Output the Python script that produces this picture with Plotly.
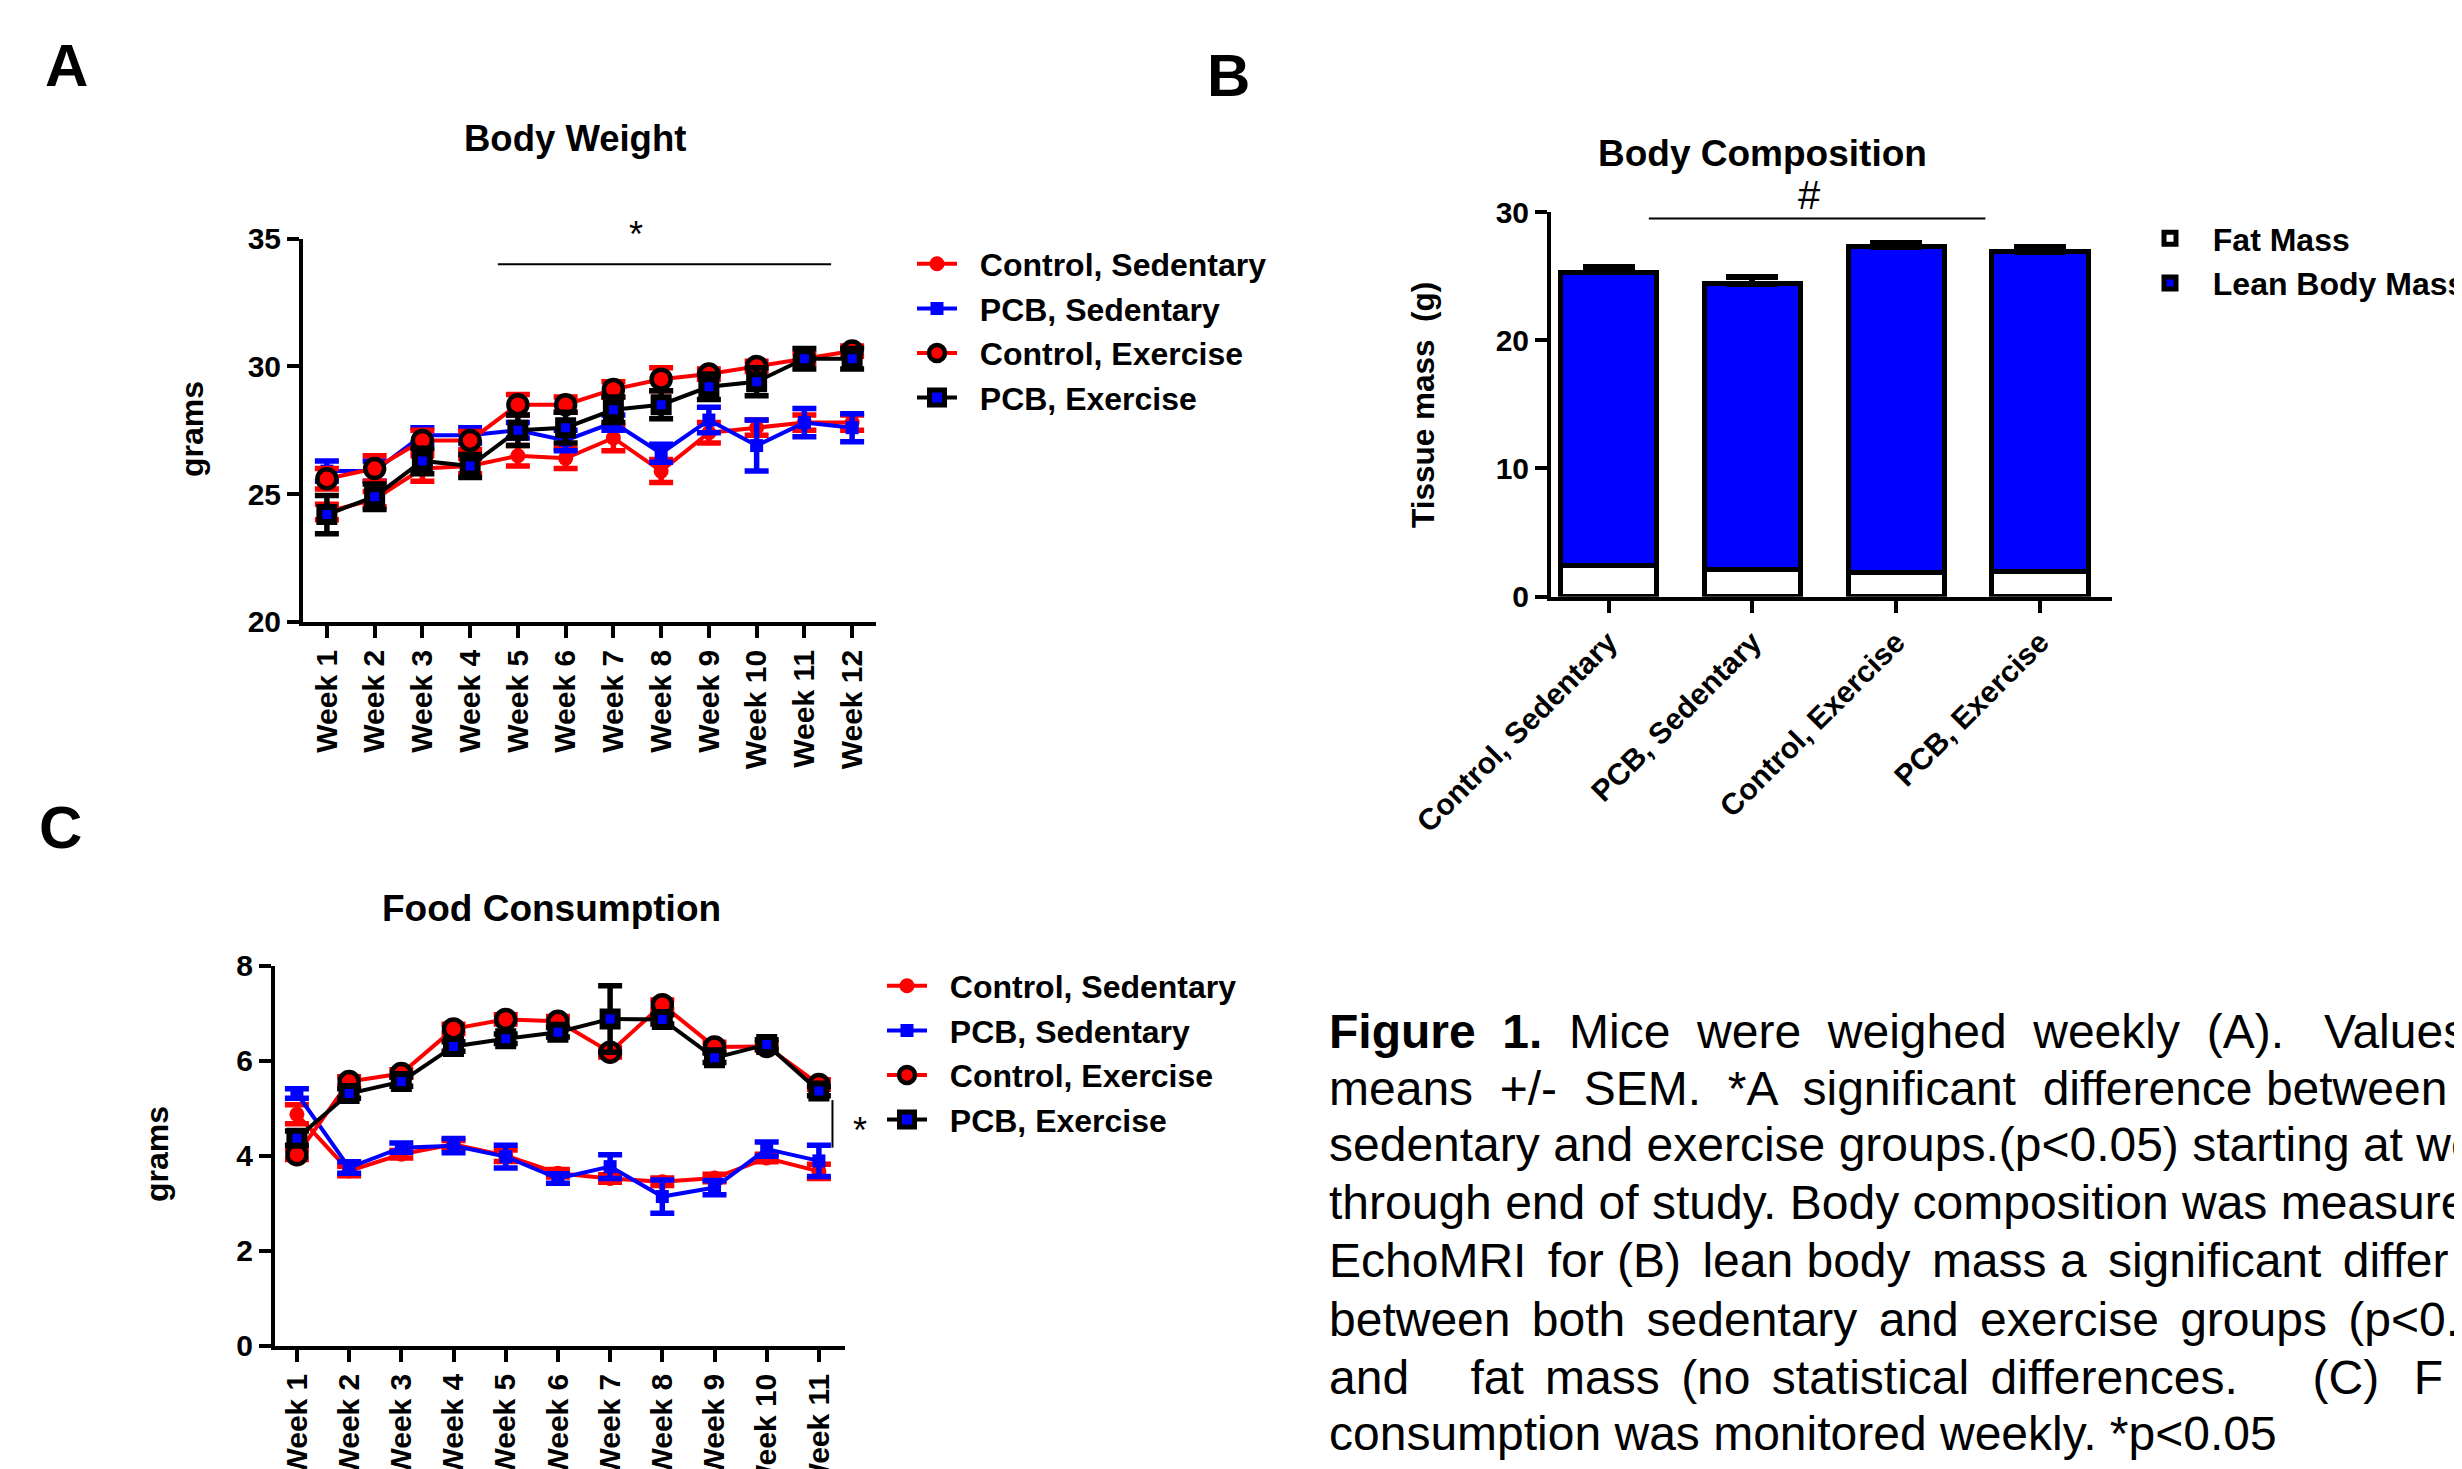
import plotly.graph_objects as go

W, H = 2462, 1469
OFF = 8  # page body margin compensation
BOLD = "Liberation Sans, Arial, Helvetica, sans-serif"

RED = "#FF0000"
BLUE = "#0000FF"
BLACK = "#000000"
NB = "\u00a0"
S6 = "\u2006"   # six-per-em space (mimics justified text)

# ---------------- Data ----------------
series_names = ["Control, Sedentary", "PCB, Sedentary", "Control, Exercise", "PCB, Exercise"]

# Panel A: Body Weight (grams)
weeks_bw = ["Week 1", "Week 2", "Week 3", "Week 4", "Week 5", "Week 6",
            "Week 7", "Week 8", "Week 9", "Week 10", "Week 11", "Week 12"]
bw_ctrl_sed = [24.3, 24.8, 26.0, 26.1, 26.5, 26.4, 27.2, 25.9, 27.4, 27.6, 27.8, 27.8]
bw_ctrl_sed_err = [0.3, 0.3, 0.5, 0.3, 0.4, 0.4, 0.5, 0.45, 0.4, 0.3, 0.3, 0.3]
bw_pcb_sed = [25.9, 25.9, 27.3, 27.3, 27.5, 27.1, 27.8, 26.6, 27.9, 26.9, 27.8, 27.6]
bw_pcb_sed_err = [0.4, 0.4, 0.3, 0.3, 0.3, 0.4, 0.3, 0.35, 0.5, 1.0, 0.55, 0.55]
bw_ctrl_ex = [25.6, 26.0, 27.1, 27.1, 28.5, 28.5, 29.1, 29.5, 29.7, 30.0, 30.3, 30.6]
bw_ctrl_ex_err = [0.4, 0.5, 0.4, 0.35, 0.4, 0.3, 0.3, 0.45, 0.2, 0.2, 0.2, 0.2]
bw_pcb_ex = [24.2, 24.9, 26.3, 26.1, 27.5, 27.6, 28.3, 28.5, 29.2, 29.4, 30.3, 30.3]
bw_pcb_ex_err = [0.75, 0.5, 0.5, 0.45, 0.6, 0.6, 0.5, 0.55, 0.5, 0.55, 0.4, 0.4]

# Panel B: Body Composition (g)
groups = ["Control, Sedentary", "PCB, Sedentary", "Control, Exercise", "PCB, Exercise"]
comp_names = ["Fat Mass", "Lean Body Mass"]
fat_mass = [2.4, 2.1, 1.9, 2.0]
fat_err_up = [0.1, 0.1, 0.1, 0.1]
fat_err_down = [0, 0, 0, 0]
lean_mass = [22.9, 22.3, 25.4, 24.9]
lean_err_up = [0.4, 0.5, 0.3, 0.4]
lean_err_down = [0, 0, 0, 0]

# Panel C: Food Consumption (grams)
weeks_fc = ["Week 1", "Week 2", "Week 3", "Week 4", "Week 5", "Week 6",
            "Week 7", "Week 8", "Week 9", "Week 10", "Week 11"]
fc_ctrl_sed = [4.87, 3.68, 4.03, 4.24, 4.00, 3.63, 3.52, 3.45, 3.53, 3.95, 3.67]
fc_ctrl_sed_err = [0.2, 0.1, 0.08, 0.08, 0.12, 0.08, 0.08, 0.08, 0.08, 0.08, 0.15]
fc_pcb_sed = [5.31, 3.75, 4.17, 4.21, 3.98, 3.52, 3.77, 3.14, 3.33, 4.14, 3.89]
fc_pcb_sed_err = [0.1, 0.12, 0.1, 0.15, 0.24, 0.1, 0.25, 0.35, 0.15, 0.15, 0.33]
fc_ctrl_ex = [4.02, 5.56, 5.73, 6.67, 6.87, 6.83, 6.18, 7.18, 6.29, 6.30, 5.50]
fc_ctrl_ex_err = [0.1, 0.1, 0.08, 0.1, 0.1, 0.1, 0.1, 0.1, 0.1, 0.08, 0.1]
fc_pcb_ex = [4.37, 5.31, 5.56, 6.30, 6.46, 6.60, 6.88, 6.87, 6.06, 6.34, 5.36]
fc_pcb_ex_err = [0.15, 0.1, 0.1, 0.1, 0.1, 0.1, 0.7, 0.1, 0.1, 0.1, 0.1]

# Caption lines as they appear (the right edge of the picture cuts them);
# {s} are small extra spaces that mimic the original justified text.
caption_lines = [
    "<b>Figure  1.</b>  Mice  were  weighed  weekly  (A).   Values",
    "means  +/-  SEM.  *A  significant  difference between",
    "sedentary and exercise groups.(p<0.05) starting at we",
    "through end of study. Body composition was measure",
    "EchoMRI {s}for (B) {s}lean body {s}mass a {s}significant {s}differ",
    "between {s}both {s}sedentary {s}and {s}exercise {s}groups {s}(p<0.",
    "and    {s}fat {s}mass {s}(no {s}statistical {s}differences.     {s}(C)  {s}F",
    "consumption was monitored weekly. *p<0.05",
]

# ---------------- Helpers (layout only) ----------------
def px(x):
    return (x - OFF) / W

def py(y):
    return 1 - (y - OFF) / H

styles = [
    dict(sym="circle", size=15, color=RED, mlw=0, mlc=RED, line=RED, err=RED),
    dict(sym="square", size=13, color=BLUE, mlw=0, mlc=BLUE, line=BLUE, err=BLUE),
    dict(sym="circle", size=19, color=RED, mlw=4.5, mlc=BLACK, line=RED, err=RED),
    dict(sym="square", size=15, color=BLUE, mlw=6, mlc=BLACK, line=BLACK, err=BLACK),
]

fig = go.Figure()

def add_series(xcats, ys, errs, name, st, xa, ya, legend):
    fig.add_trace(go.Scatter(
        x=xcats, y=ys, name=NB * 2 + name, mode="lines+markers",
        line=dict(color=st["line"], width=4),
        marker=dict(symbol=st["sym"], size=st["size"], color=st["color"],
                    line=dict(color=st["mlc"], width=st["mlw"])),
        error_y=dict(type="data", array=errs, visible=True, color=st["err"],
                     thickness=5.5, width=12),
        xaxis=xa, yaxis=ya, legend=legend, cliponaxis=False,
    ))

bw_vals = [(bw_ctrl_sed, bw_ctrl_sed_err), (bw_pcb_sed, bw_pcb_sed_err),
           (bw_ctrl_ex, bw_ctrl_ex_err), (bw_pcb_ex, bw_pcb_ex_err)]
for (ys, es), nm, st in zip(bw_vals, series_names, styles):
    add_series(weeks_bw, ys, es, nm, st, "x", "y", "legend")

fc_vals = [(fc_ctrl_sed, fc_ctrl_sed_err), (fc_pcb_sed, fc_pcb_sed_err),
           (fc_ctrl_ex, fc_ctrl_ex_err), (fc_pcb_ex, fc_pcb_ex_err)]
for (ys, es), nm, st in zip(fc_vals, series_names, styles):
    add_series(weeks_fc, ys, es, nm, st, "x3", "y3", "legend2")

fig.add_trace(go.Bar(
    x=groups, y=fat_mass, name=NB * 2 + comp_names[0], width=0.67,
    marker=dict(color="white", line=dict(color=BLACK, width=5)),
    error_y=dict(type="data", symmetric=False, array=fat_err_up, arrayminus=fat_err_down,
                 color=BLACK, thickness=5, width=26),
    xaxis="x2", yaxis="y2", legend="legend3",
))
fig.add_trace(go.Bar(
    x=groups, y=lean_mass, name=NB * 2 + comp_names[1], width=0.67,
    marker=dict(color=BLUE, line=dict(color=BLACK, width=5)),
    error_y=dict(type="data", symmetric=False, array=lean_err_up, arrayminus=lean_err_down,
                 color=BLACK, thickness=6, width=26),
    xaxis="x2", yaxis="y2", legend="legend3",
))

axis_base = dict(showgrid=False, zeroline=False, showline=True, linecolor=BLACK,
                 linewidth=4, ticks="outside", ticklen=12, tickwidth=4, tickcolor=BLACK,
                 mirror=False, automargin=False)

tick_bold = dict(family=BOLD, size=30, color=BLACK, weight="bold")
legend_font = dict(family=BOLD, size=32, color=BLACK, weight="bold")

fig.update_layout(
    width=W, height=H, autosize=False,
    margin=dict(l=0, r=0, t=0, b=0, pad=0, autoexpand=False),
    paper_bgcolor="white", plot_bgcolor="rgba(0,0,0,0)",
    barmode="stack",
    showlegend=True,
    xaxis=dict(axis_base, domain=[px(303), px(876)], range=[-0.5, 11.5], anchor="y",
               tickangle=-90, tickfont=tick_bold, type="category"),
    yaxis=dict(axis_base, domain=[py(621.8), py(238.7)], range=[20, 35], anchor="x",
               tickvals=[20, 25, 30, 35], tickfont=tick_bold),
    xaxis2=dict(axis_base, domain=[px(1551), px(2112)], range=[-0.4, 3.5], anchor="y2",
                tickangle=-45, tickfont=tick_bold, type="category"),
    yaxis2=dict(axis_base, domain=[py(596.7), py(212)], range=[0, 30], anchor="x2",
                tickvals=[0, 10, 20, 30], tickfont=tick_bold),
    xaxis3=dict(axis_base, domain=[px(275), px(845)], range=[-0.42, 10.5], anchor="y3",
                tickangle=-90, tickfont=tick_bold, type="category"),
    yaxis3=dict(axis_base, domain=[py(1345.7), py(965.7)], range=[0, 8], anchor="x3",
                tickvals=[0, 2, 4, 6, 8], tickfont=tick_bold),
    legend=dict(x=px(912), y=py(331), xanchor="left", yanchor="middle",
                font=legend_font, bgcolor="rgba(0,0,0,0)", itemwidth=40,
                tracegroupgap=0),
    legend2=dict(x=px(882), y=py(1053), xanchor="left", yanchor="middle",
                 font=legend_font, bgcolor="rgba(0,0,0,0)", itemwidth=40,
                 tracegroupgap=0),
    legend3=dict(x=px(2145), y=py(261), xanchor="left", yanchor="middle",
                 font=legend_font, bgcolor="rgba(0,0,0,0)", itemwidth=40,
                 tracegroupgap=0, traceorder="normal"),
)

# significance markers
fig.add_shape(type="line", xref="x", yref="y", x0=3.58, x1=10.56, y0=34, y1=34,
              line=dict(color=BLACK, width=2))
fig.add_shape(type="line", xref="x2", yref="y2", x0=0.28, x1=2.62, y0=29.5, y1=29.5,
              line=dict(color=BLACK, width=2))
fig.add_shape(type="line", xref="x3", yref="y3", x0=10.26, x1=10.26, y0=4.17, y1=5.17,
              line=dict(color=BLACK, width=2))

def ann(text, x, y, size, family=BOLD, weight="bold", angle=0, xanchor="center",
        yanchor="middle"):
    fig.add_annotation(text=text, x=px(x), y=py(y), xref="paper", yref="paper",
                       showarrow=False, textangle=angle, xanchor=xanchor,
                       yanchor=yanchor,
                       font=dict(family=family, size=size, color=BLACK, weight=weight))

ann("A", 66, 66, 60)
ann("B", 1228, 75, 60)
ann("C", 60, 827, 60)
ann("Body Weight", 575, 138, 36.5)
ann("Body Composition", 1762, 154, 37)
ann("Food Consumption", 551, 908, 37)
ann("grams", 192, 429, 32, angle=-90)
ann("Tissue mass\u00a0 (g)", 1423, 405, 31.5, angle=-90)
ann("grams", 157, 1154, 32, angle=-90)
ann("*", 636, 234, 36, weight="normal")
ann("#", 1809, 195, 40, weight="normal")
ann("*", 860, 1130, 36, weight="normal")

cap_y = [1031.6, 1088, 1144.7, 1202.8, 1260.9, 1319, 1377, 1433.6]
for line_text, yy in zip(caption_lines, cap_y):
    ann(line_text.format(s=S6), 1327, yy, 48, weight="normal", xanchor="left")

fig.write_html("out.html")
